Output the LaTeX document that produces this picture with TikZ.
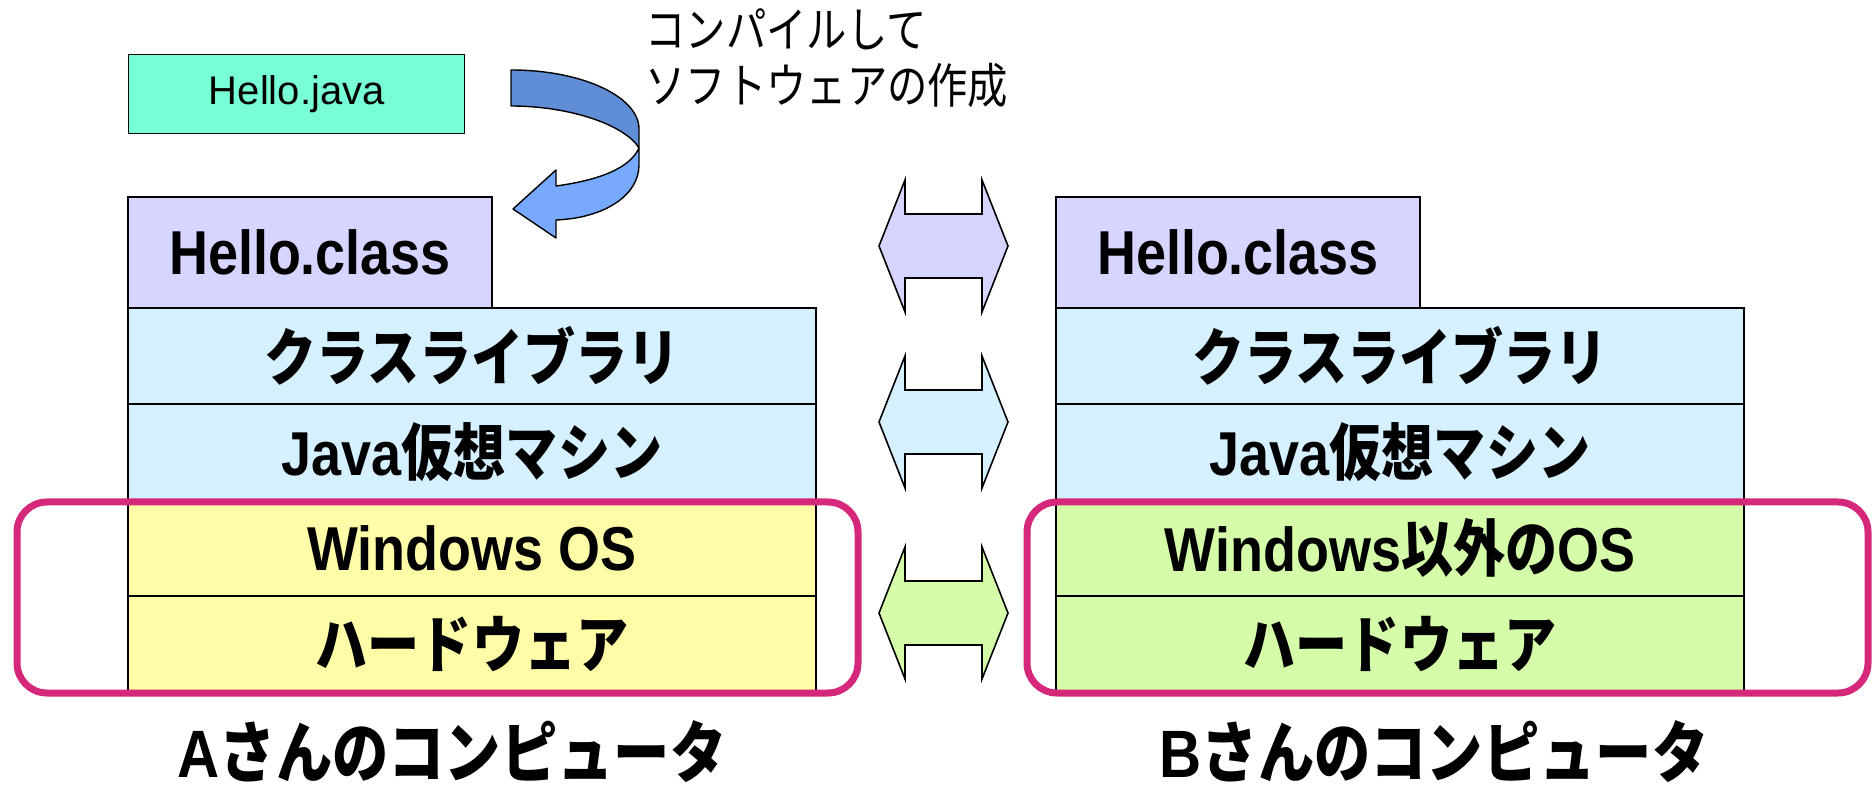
\documentclass[tikz,border=0pt]{standalone}
\usepackage{fontspec}
\setmainfont{Liberation Sans}[BoldFeatures={FakeStretch=0.87}]
\newfontfamily\jp{Noto Sans CJK JP}[FakeStretch=0.84]
\usetikzlibrary{positioning}

\definecolor{javagreen}{RGB}{119,255,213}
\definecolor{classpurple}{RGB}{213,213,255}
\definecolor{libblue}{RGB}{213,240,255}
\definecolor{winyellow}{RGB}{255,252,168}
\definecolor{othergreen}{RGB}{213,252,168}
\definecolor{framered}{RGB}{214,40,122}
\definecolor{arrowdark}{RGB}{96,142,214}
\definecolor{arrowlight}{RGB}{119,170,255}

\begin{document}
\begin{tikzpicture}[x=0.5pt, y=-0.5pt,
    layer/.style={draw, rectangle, line width=0.7pt, minimum width=344pt, minimum height=48pt, inner sep=0pt, outer sep=0pt, font=\fontsize{31}{36}\selectfont\bfseries},
    classbox/.style={layer, minimum width=182pt, minimum height=55.5pt},
    caption/.style={inner sep=0pt, font=\fontsize{33.5}{40}\selectfont\bfseries},
    frame/.style={draw=framered, line width=3.5pt, rounded corners=15pt},
    ribbon/.style={draw, line width=0.7pt, line join=round},
    xarrow/.style={draw, line width=0.8pt, line join=miter}]

    \useasboundingbox (0,0) rectangle (1874,790);

    % Source file and compile step
    \node[draw, line width=0.7pt, fill=javagreen, minimum width=168pt, minimum height=39.5pt, anchor=north west, font=\fontsize{20}{24}\selectfont] (java) at (128,54) {Hello.java};
    \node[anchor=north west, inner sep=0pt, align=left, font=\jp\fontsize{24}{28}\selectfont] (note) at (645,8) {コンパイルして\\ソフトウェアの作成};
    \draw[ribbon, fill=arrowdark] (511,70) .. controls (583,70) and (639,97) .. (639,129) -- (639,148) .. controls (625,125) and (570,106) .. (511,106) -- cycle;
    \draw[ribbon, fill=arrowlight] (639,148) -- (639,165) .. controls (639,195) and (605,218) .. (556,220) -- (556,238) -- (513,209) -- (556,170) -- (556,186) .. controls (600,180) and (630,168) .. (639,148) -- cycle;

    % A's computer
    \node[layer, fill=libblue, anchor=north west] (libA) at (128,308) {{\jp クラスライブラリ}};
    \node[layer, fill=libblue, below=0pt of libA] (jvmA) {Java{\jp 仮想マシン}};
    \node[layer, fill=winyellow, below=0pt of jvmA] (osA) {Windows OS};
    \node[layer, fill=winyellow, below=0pt of osA] (hwA) {{\jp ハードウェア}};
    \node[classbox, fill=classpurple, above=0pt of libA.north west, anchor=south west] (classA) {Hello.class};

    % B's computer
    \node[layer, fill=libblue, anchor=north west] (libB) at (1056,308) {{\jp クラスライブラリ}};
    \node[layer, fill=libblue, below=0pt of libB] (jvmB) {Java{\jp 仮想マシン}};
    \node[layer, fill=othergreen, below=0pt of jvmB] (osB) {Windows{\jp 以外の}OS};
    \node[layer, fill=othergreen, below=0pt of osB] (hwB) {{\jp ハードウェア}};
    \node[classbox, fill=classpurple, above=0pt of libB.north west, anchor=south west] (classB) {Hello.class};

    % Platform-dependent part
    \draw[frame] (17,502) rectangle (858,693);
    \draw[frame] (1027,502) rectangle (1868,693);

    % Exchange arrows
    \foreach \ym/\col in {246/classpurple, 422/libblue, 613/othergreen}
        \draw[xarrow, fill=\col] (879,\ym) -- ++(26,-66) -- ++(0,34) -- ++(77,0) -- ++(0,-34) -- ++(26,66)
            -- ++(-26,66) -- ++(0,-34) -- ++(-77,0) -- ++(0,34) -- cycle;

    % Captions
    \node[caption] (pcA) at (452,752) {A{\jp さんのコンピュータ}};
    \node[caption] (pcB) at (1434,752) {B{\jp さんのコンピュータ}};
\end{tikzpicture}
\end{document}
